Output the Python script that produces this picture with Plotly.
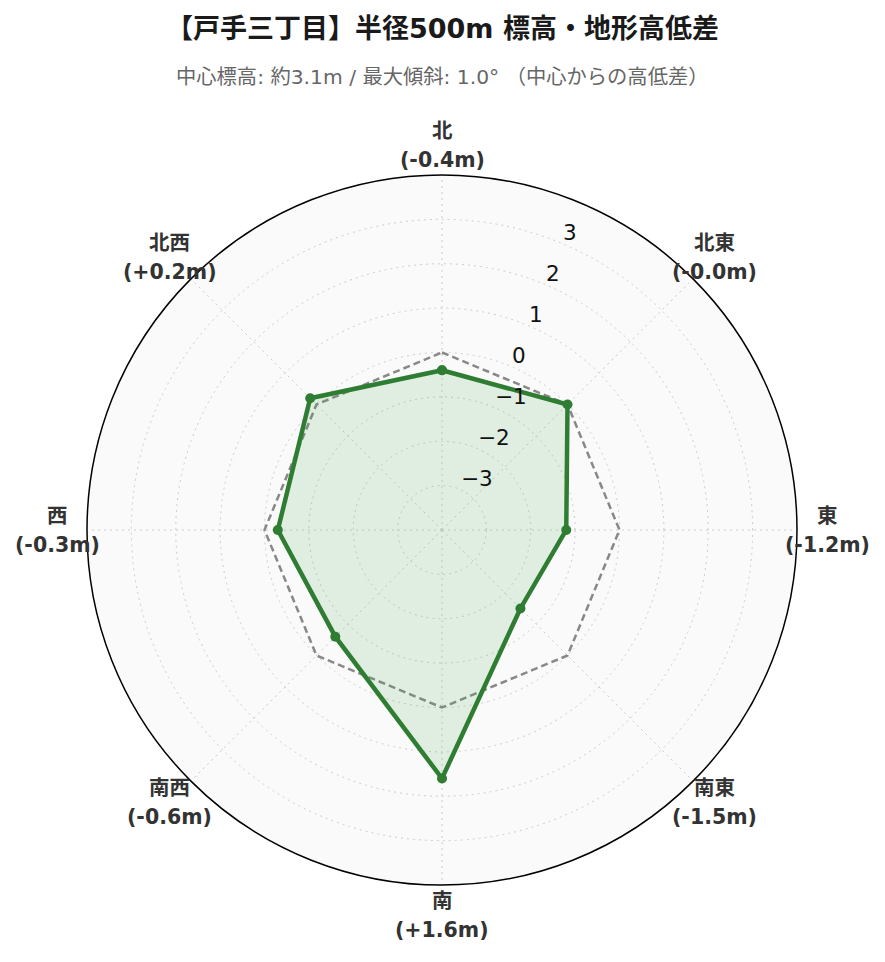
import math

import plotly.graph_objects as go

# 方位と中心からの高低差 (m)
directions = ["北", "北東", "東", "南東", "南", "南西", "西", "北西"]
diffs = [-0.4, -0.0, -1.2, -1.5, 1.6, -0.6, -0.3, 0.2]
baseline = [0, 0, 0, 0, 0, 0, 0, 0]
radial_ticks = [-3, -2, -1, 0, 1, 2, 3]
radial_range = [-4, 4]

title_text = "【戸手三丁目】半径500m 標高・地形高低差"
subtitle_text = "中心標高: 約3.1m / 最大傾斜: 1.0° （中心からの高低差）"


def fmt(v):
    return f"+{v:.1f}m" if v > 0 else f"-{abs(v):.1f}m"


# close the polygons
theta = directions + directions[:1]
r_diff = diffs + diffs[:1]
r_base = baseline + baseline[:1]

W, H = 885, 962
# browser body margin shifts the page by 8px, so the margins compensate
M = {"l": 79, "r": 96, "t": 167, "b": 85}
FONT = "DejaVu Sans, Noto Sans CJK JP, sans-serif"
RADIAL_ANGLE = 67.5

fig = go.Figure()

# 基準 (0m)
fig.add_trace(
    go.Scatterpolar(
        r=r_base,
        theta=theta,
        mode="lines",
        line={"color": "#888888", "width": 2.5, "dash": "7px,4px"},
        hoverinfo="skip",
        showlegend=False,
    )
)

# 高低差
fig.add_trace(
    go.Scatterpolar(
        r=r_diff,
        theta=theta,
        mode="lines+markers",
        fill="toself",
        fillcolor="rgba(76,175,80,0.15)",
        line={"color": "#2e7d32", "width": 4.5},
        marker={"size": 10, "color": "#2e7d32"},
        showlegend=False,
    )
)

plot_h = H - M["t"] - M["b"]
title_y = (H - M["b"] - 20) / plot_h
sub_y = (H - M["b"] - 69) / plot_h

annotations = [
    {
        "text": f"<b>{title_text}</b>",
        "xref": "paper",
        "yref": "paper",
        "x": 0.5,
        "y": title_y,
        "yanchor": "middle",
        "showarrow": False,
        "font": {"size": 27, "color": "#1a1a1a"},
    },
    {
        "text": subtitle_text,
        "xref": "paper",
        "yref": "paper",
        "x": 0.5,
        "y": sub_y,
        "yanchor": "middle",
        "showarrow": False,
        "font": {"size": 20.3, "color": "#666666"},
    },
]

# direction labels just outside the circle, centred on their angle
label_r = 0.5 + 30 / plot_h
for i, (d, v) in enumerate(zip(directions, diffs)):
    ang = math.radians(i * 360 / len(directions))
    x = 0.5 + label_r * math.sin(ang)
    y = 0.5 + label_r * math.cos(ang)
    for txt, shift in ((d, 14.5), (f"({fmt(v)})", -14.5)):
        annotations.append(
            {
                "text": f"<b>{txt}</b>",
                "xref": "paper",
                "yref": "paper",
                "x": x,
                "y": y,
                "yshift": shift,
                "xanchor": "center",
                "yanchor": "middle",
                "showarrow": False,
                "font": {"size": 20.5, "color": "#333333"},
            }
        )

# radial tick labels, horizontal, sitting just above the radial axis line
ra = math.radians(RADIAL_ANGLE)
span = radial_range[1] - radial_range[0]
for t in radial_ticks:
    rf = 0.5 * (t - radial_range[0]) / span
    annotations.append(
        {
            "text": str(t).replace("-", "\u2212"),
            "xref": "paper",
            "yref": "paper",
            "x": 0.5 + rf * math.cos(ra),
            "y": 0.5 + rf * math.sin(ra),
            "yshift": 10.5,
            "xanchor": "left",
            "yanchor": "middle",
            "showarrow": False,
            "font": {"size": 21.5, "color": "#111111"},
        }
    )

fig.update_layout(
    width=W,
    height=H,
    paper_bgcolor="white",
    font={"family": FONT, "color": "#111111"},
    margin=M,
    annotations=annotations,
    polar={
        "bgcolor": "#fafafa",
        "angularaxis": {
            "direction": "clockwise",
            "rotation": 90,
            "showticklabels": False,
            "showline": True,
            "linecolor": "black",
            "linewidth": 1.5,
            "gridcolor": "#cccccc",
            "griddash": "2px,4px",
            "ticks": "",
        },
        "radialaxis": {
            "range": radial_range,
            "tickvals": radial_ticks,
            "angle": RADIAL_ANGLE,
            "showticklabels": False,
            "showline": False,
            "ticks": "",
            "gridcolor": "#cccccc",
            "griddash": "2px,4px",
        },
    },
)

fig.write_html("out.html")
